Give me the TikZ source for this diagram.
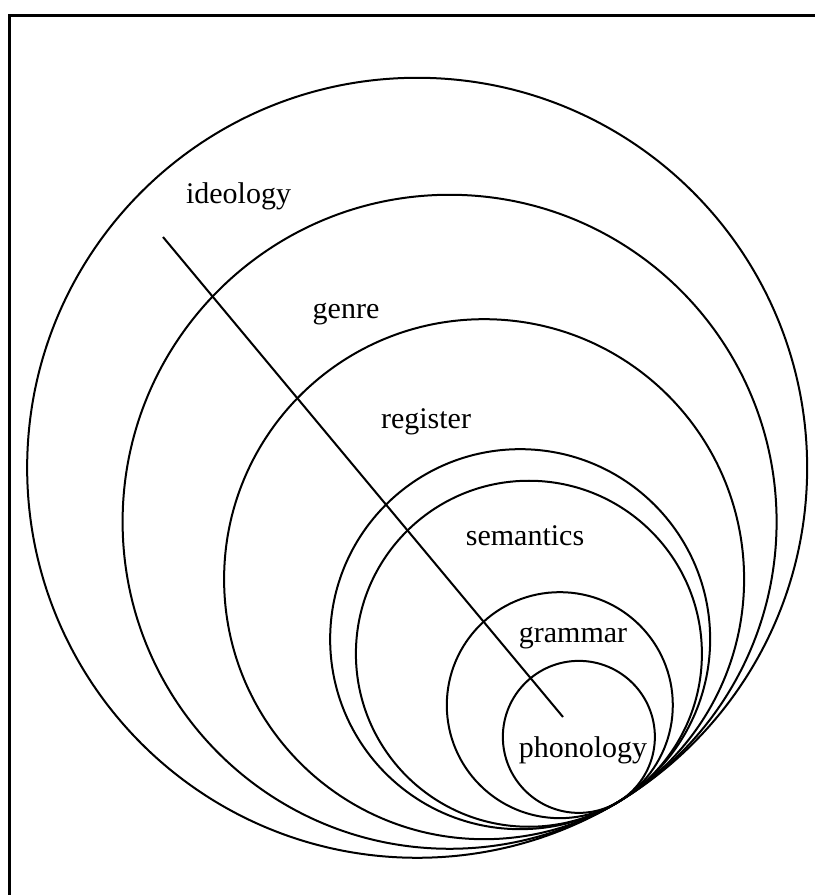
\documentclass[tikz,border=0pt]{standalone}
\usepackage{fontspec}
\setmainfont{Liberation Serif}
\usepackage{tikz}

\tikzset{
    lbl/.style={anchor=base, inner sep=0pt, font=\fontsize{15}{18}\selectfont}
}

\begin{document}
\begin{tikzpicture}[x=0.5pt, y=-0.5pt, line width=1pt]
    % parameters
    \def\Px{618}     % common tangent point
    \def\Py{802}
    \def\ux{0.515}   % direction from centres to that point
    \def\uy{0.857}

    \useasboundingbox (0,0) rectangle (815,895);

    % frame (top and left edge)
    \draw[line width=1.5pt] (9.5,895) -- (9.5,15) -- (815,15);

    % nested circles, all touching at one point
    \foreach \r in {390,327,260,190,173,113,76}
        \draw ({\Px-\r*\ux},{\Py-\r*\uy}) circle[radius=\r];

    % labels
    \node[lbl] (ideology)  at (238.5,203) {ideology};
    \node[lbl] (genre)     at (346,318)   {genre};
    \node[lbl] (register)  at (426,428)   {register};
    \node[lbl] (semantics) at (525,545)   {semantics};
    \node[lbl] (grammar)   at (573,642)   {grammar};
    \node[lbl] (phonology) at (583,757)   {phonology};

    % diagonal line
    \coordinate (lineStart) at (163,237);
    \coordinate (lineEnd)   at (563,717);
    \draw (lineStart) -- (lineEnd);
\end{tikzpicture}
\end{document}
